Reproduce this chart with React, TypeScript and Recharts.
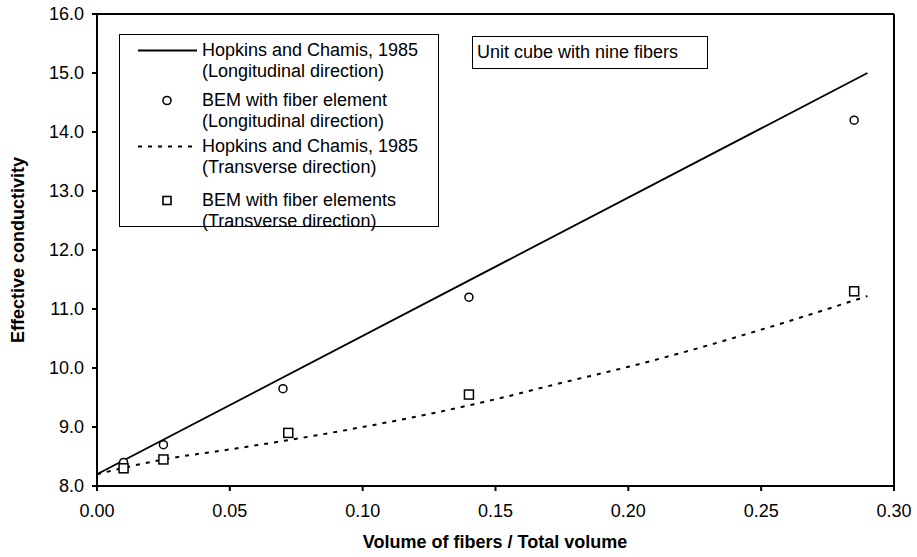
import React from 'react';
import {
  ComposedChart,
  Line,
  Scatter,
  XAxis,
  YAxis,
  Legend,
  ReferenceLine,
} from 'recharts';

// model curves (Hopkins and Chamis, 1985)
const longModelX = [0, 0.29];
const longModelY = [8.2, 15.0];
const transModelX = [0, 0.025, 0.05, 0.075, 0.1, 0.125, 0.15, 0.175, 0.2, 0.225, 0.25, 0.275, 0.29];
const transModelY = [8.2, 8.45, 8.62, 8.8, 9.0, 9.22, 9.47, 9.75, 10.02, 10.32, 10.65, 11.0, 11.22];

// BEM results
const longBemX = [0.01, 0.025, 0.07, 0.14, 0.285];
const longBemY = [8.4, 8.7, 9.65, 11.2, 14.2];
const transBemX = [0.01, 0.025, 0.072, 0.14, 0.285];
const transBemY = [8.3, 8.45, 8.9, 9.55, 11.3];

const xTicks = [0, 0.05, 0.1, 0.15, 0.2, 0.25, 0.3];
const yTicks = [8, 9, 10, 11, 12, 13, 14, 15, 16];

const legendLabels = [
  ['Hopkins and Chamis, 1985', '(Longitudinal direction)'],
  ['BEM with fiber element', '(Longitudinal direction)'],
  ['Hopkins and Chamis, 1985', '(Transverse direction)'],
  ['BEM with fiber elements', '(Transverse direction)'],
];

const zip = (xs: number[], ys: number[]) => xs.map((x, i) => ({ x, y: ys[i] }));

const FONT = '"Liberation Sans", Arial, Helvetica, sans-serif';

const Circle = (props: any) => (
  <circle cx={props.cx} cy={props.cy} r={4} fill="#fff" stroke="#000" strokeWidth={1.5} />
);
const Square = (props: any) => (
  <rect x={props.cx - 4.5} y={props.cy - 4.5} width={9} height={9} fill="#fff" stroke="#000" strokeWidth={1.5} />
);

const symbol = (i: number) => {
  if (i === 0) return <line x1={0} x2={59} y1={10.5} y2={10.5} stroke="#000" strokeWidth={1.8} />;
  if (i === 1) return <circle cx={29} cy={10.5} r={4} fill="#fff" stroke="#000" strokeWidth={1.6} />;
  if (i === 2) return <line x1={0} x2={59} y1={10.5} y2={10.5} stroke="#000" strokeWidth={2} strokeDasharray="4 6" />;
  return <rect x={25} y={6.5} width={8} height={8} fill="#fff" stroke="#000" strokeWidth={1.6} />;
};

const rowTops = [5, 55, 101, 155];

const LegendBox = () => (
  <div
    style={{
      position: 'relative',
      width: 320,
      height: 193,
      boxSizing: 'border-box',
      border: '1px solid #000',
      background: '#fff',
      fontFamily: FONT,
      fontSize: 18,
      lineHeight: '21px',
      color: '#000',
    }}
  >
    {legendLabels.map((lines, i) => (
      <div key={i} style={{ position: 'absolute', top: rowTops[i], left: 0 }}>
        <svg width={60} height={21} style={{ position: 'absolute', left: 18, top: 0 }}>
          {symbol(i)}
        </svg>
        <div style={{ position: 'absolute', left: 82, top: 0, whiteSpace: 'nowrap' }}>
          {lines[0]}
          <br />
          {lines[1]}
        </div>
      </div>
    ))}
  </div>
);

export default function App() {
  return (
    <div style={{ position: 'absolute', left: 0, top: 0, width: 917, height: 557, background: '#fff' }}>
      <ComposedChart
        width={917}
        height={557}
        margin={{ top: 14, right: 23, bottom: 0, left: 0 }}
        style={{ fontFamily: FONT }}
      >
        <XAxis
          type="number"
          dataKey="x"
          domain={[0, 0.3]}
          ticks={xTicks}
          tickFormatter={(v: number) => v.toFixed(2)}
          height={71}
          tickSize={5}
          tickMargin={13}
          stroke="#000"
          strokeWidth={2}
          tick={{ fill: '#000', fontSize: 18 }}
          allowDataOverflow
          label={{
            content: () => (
              <text x={495} y={542} textAnchor="middle" dominantBaseline="central" fontSize={18} fontWeight="bold" fill="#000">
                Volume of fibers / Total volume
              </text>
            ),
          }}
        />
        <YAxis
          type="number"
          dataKey="y"
          domain={[8, 16]}
          ticks={yTicks}
          tickFormatter={(v: number) => v.toFixed(1)}
          width={97}
          tickSize={5}
          tickMargin={8}
          stroke="#000"
          strokeWidth={2}
          tick={{ fill: '#000', fontSize: 18 }}
          allowDataOverflow
          label={{
            content: () => (
              <text
                x={18}
                y={250}
                transform="rotate(-90, 18, 250)"
                textAnchor="middle"
                dominantBaseline="central"
                fontSize={18}
                fontWeight="bold"
                fill="#000"
              >
                Effective conductivity
              </text>
            ),
          }}
        />
        <ReferenceLine y={16} stroke="#000" strokeWidth={2} />
        <ReferenceLine x={0.3} stroke="#000" strokeWidth={2} />
        <Line
          data={zip(longModelX, longModelY)}
          dataKey="y"
          type="linear"
          stroke="#000"
          strokeWidth={1.8}
          dot={false}
          isAnimationActive={false}
          name="Hopkins and Chamis, 1985 (Longitudinal direction)"
        />
        <Line
          data={zip(transModelX, transModelY)}
          dataKey="y"
          type="monotone"
          stroke="#000"
          strokeWidth={2}
          strokeDasharray="4 6"
          dot={false}
          isAnimationActive={false}
          name="Hopkins and Chamis, 1985 (Transverse direction)"
        />
        <Scatter
          data={zip(longBemX, longBemY)}
          dataKey="y"
          shape={Circle}
          isAnimationActive={false}
          name="BEM with fiber element (Longitudinal direction)"
        />
        <Scatter
          data={zip(transBemX, transBemY)}
          dataKey="y"
          shape={Square}
          isAnimationActive={false}
          name="BEM with fiber elements (Transverse direction)"
        />
        <Legend
          layout="horizontal"
          verticalAlign="middle"
          align="center"
          content={() => <LegendBox />}
          wrapperStyle={{ left: 119, top: 34, width: 320, height: 193 }}
        />
      </ComposedChart>
      <div
        style={{
          position: 'absolute',
          left: 472,
          top: 36,
          width: 236,
          height: 33,
          boxSizing: 'border-box',
          border: '1px solid #000',
          fontFamily: FONT,
          fontSize: 18,
          lineHeight: '31px',
          paddingLeft: 4,
          color: '#000',
          background: '#fff',
        }}
      >
        Unit cube with nine fibers
      </div>
    </div>
  );
}
